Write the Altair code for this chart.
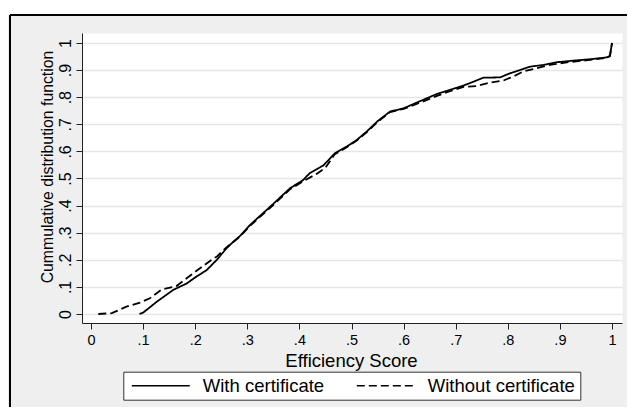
import altair as alt
import pandas as pd

series = ["With certificate", "Without certificate"]
tick_values = [0, 0.1, 0.2, 0.3, 0.4, 0.5, 0.6, 0.7, 0.8, 0.9, 1.0]

with_x = [0.093, 0.100, 0.126, 0.158, 0.184, 0.200, 0.222, 0.241, 0.260, 0.270,
          0.286, 0.305, 0.344, 0.382, 0.407, 0.420, 0.446, 0.468, 0.491, 0.510,
          0.529, 0.551, 0.574, 0.600, 0.625, 0.664, 0.689, 0.715, 0.734, 0.753,
          0.785, 0.804, 0.820, 0.843, 0.868, 0.894, 0.926, 0.958, 0.990, 0.996, 1.0]
with_y = [0.000, 0.005, 0.045, 0.089, 0.113, 0.135, 0.162, 0.199, 0.242, 0.261,
          0.288, 0.328, 0.396, 0.464, 0.494, 0.520, 0.548, 0.593, 0.618, 0.642,
          0.673, 0.713, 0.747, 0.759, 0.780, 0.812, 0.827, 0.843, 0.857, 0.872,
          0.873, 0.888, 0.898, 0.913, 0.919, 0.929, 0.935, 0.940, 0.947, 0.952, 1.0]

without_x = [0.014, 0.040, 0.068, 0.094, 0.113, 0.136, 0.164, 0.196, 0.235, 0.241,
             0.260, 0.286, 0.305, 0.344, 0.382, 0.407, 0.433, 0.450, 0.468, 0.491,
             0.510, 0.529, 0.551, 0.574, 0.600, 0.625, 0.664, 0.689, 0.715, 0.740,
             0.766, 0.791, 0.810, 0.830, 0.855, 0.881, 0.910, 0.950, 0.990, 0.996, 1.0]
without_y = [0.000, 0.003, 0.027, 0.042, 0.058, 0.091, 0.103, 0.150, 0.205, 0.211,
             0.246, 0.286, 0.325, 0.392, 0.460, 0.490, 0.517, 0.540, 0.590, 0.615,
             0.640, 0.670, 0.710, 0.745, 0.757, 0.775, 0.805, 0.822, 0.838, 0.841,
             0.854, 0.861, 0.876, 0.895, 0.907, 0.919, 0.928, 0.936, 0.945, 0.952, 1.0]

df = pd.concat([
    pd.DataFrame({"score": with_x, "cdf": with_y, "group": series[0],
                  "order": list(range(len(with_x)))}),
    pd.DataFrame({"score": without_x, "cdf": without_y, "group": series[1],
                  "order": list(range(len(without_x)))}),
], ignore_index=True)

W, H = 540, 290
x_lo = -9 / 521
xdom = [x_lo, x_lo + W / 521]
y_hi = (314 - 33) / 271
ydom = [y_hi - H / 271, y_hi]

FONT = "Liberation Sans"
label_expr = ("datum.value == 0 ? '0' : datum.value == 1 ? '1' : "
              "substring(format(datum.value, '.1f'), 1)")

lines = alt.Chart(df).mark_line(color="black", strokeWidth=1.8, clip=True).encode(
    x=alt.X("score:Q",
            scale=alt.Scale(domain=xdom, nice=False, zero=False),
            axis=alt.Axis(values=tick_values, labelExpr=label_expr, grid=False,
                          title="Efficiency Score", titleFont=FONT, titleFontSize=18.5,
                          titleFontWeight="normal", titleColor="black",
                          titleX=269, titleY=37, titleBaseline="middle",
                          titleAlign="center",
                          labelFont=FONT, labelFontSize=14.5, labelColor="black",
                          labelPadding=4, labelAngle=0,
                          domainColor="#222222", tickColor="#222222", tickSize=6)),
    y=alt.Y("cdf:Q",
            scale=alt.Scale(domain=ydom, nice=False, zero=False),
            axis=alt.Axis(values=tick_values, labelExpr=label_expr, grid=True,
                          gridColor="#e6e6e6", gridWidth=1.5,
                          title="Cummulative distribution function", titleFont=FONT,
                          titleFontSize=15.8, titleFontWeight="normal",
                          titleColor="black", titleAngle=270, titleX=-35,
                          titleY=133.5, titleBaseline="middle", titleAlign="center",
                          labelFont=FONT, labelFontSize=16, labelColor="black",
                          labelAngle=270, labelAlign="center", labelBaseline="bottom",
                          labelPadding=3,
                          domainColor="#222222", tickColor="#222222", tickSize=6)),
    strokeDash=alt.StrokeDash(
        "group:N",
        scale=alt.Scale(domain=series, range=[[1, 0], [8, 4]]),
        legend=alt.Legend(title=None, orient="none", legendX=41.3, legendY=338.7,
                          direction="horizontal", columns=2,
                          symbolType="stroke", symbolSize=3364, symbolOffset=3,
                          symbolStrokeColor="black", symbolStrokeWidth=1.6,
                          clipHeight=19,
                          labelFont=FONT, labelFontSize=18.5, labelColor="black",
                          labelOffset=12, columnPadding=28, padding=4.5,
                          fillColor="white", strokeColor="#333333",
                          labelLimit=300)),
    order="order:Q",
)

deco = alt.Data(values=[{"k": 1}])
white_strip = alt.Chart(deco).mark_rect(color="white").encode(
    x=alt.value(-74), x2=alt.value(545), y=alt.value(-25), y2=alt.value(-19))
top_rule = alt.Chart(deco).mark_rule(color="black", strokeWidth=2).encode(
    x=alt.value(-72), x2=alt.value(545), y=alt.value(-18))
left_rule = alt.Chart(deco).mark_rule(color="black", strokeWidth=2).encode(
    x=alt.value(-72), y=alt.value(-18), y2=alt.value(374))

chart = alt.layer(white_strip, top_rule, left_rule, lines).properties(
    width=W, height=H,
    autosize=alt.AutoSizeParams(type="none"),
    padding={"left": 74, "top": 25, "right": 5, "bottom": 84},
    background="#efefef",
).configure_view(fill="white", stroke="transparent")

chart.save("out.html", embed_options={"renderer": "svg", "actions": False})
